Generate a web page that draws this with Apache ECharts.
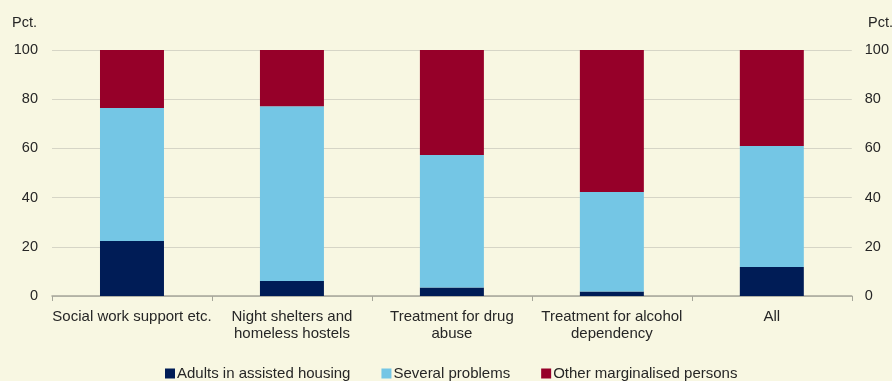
<!DOCTYPE html>
<html>
<head>
<meta charset="utf-8">
<script src="https://cdn.jsdelivr.net/npm/echarts@6/dist/echarts.min.js"></script>
<style>
  html, body { margin: 0; padding: 0; background: #F8F7E2; }
  #chart { width: 892px; height: 381px; }
</style>
</head>
<body>
<div id="chart"></div>
<script>
// Shares of each group per service type, in percent
const categories = [
  'Social work support etc.',
  'Night shelters and\nhomeless hostels',
  'Treatment for drug\nabuse',
  'Treatment for alcohol\ndependency',
  'All'
];
const adultsAssistedHousing = [22.4, 6.1, 3.5, 1.8, 11.8];
const severalProblems       = [54.0, 71.0, 53.8, 40.5, 49.2];
const otherMarginalised     = [23.6, 22.9, 42.7, 57.7, 39.0];
const yTicks = [0, 20, 40, 60, 80, 100];

const textColor = '#262626';
const fontFamily = 'Liberation Sans, Arial, sans-serif';

const chart = echarts.init(document.getElementById('chart'), null, { renderer: 'canvas' });

const valueAxis = (pos) => ({
  type: 'value',
  position: pos,
  min: yTicks[0],
  max: yTicks[yTicks.length - 1],
  interval: yTicks[1] - yTicks[0],
  axisLine: { show: false },
  axisTick: { show: false },
  axisLabel: {
    color: textColor, fontFamily, fontSize: 14.5,
    margin: pos === 'left' ? 14 : 13,
    align: pos === 'left' ? 'right' : 'left'
  },
  splitLine: { show: pos === 'left', lineStyle: { color: '#D6D5C6', width: 1 } }
});

chart.setOption({
  backgroundColor: '#F8F7E2',
  animation: false,
  grid: { left: 52, right: 37, top: 50, bottom: 85, containLabel: false },
  graphic: [
    { type: 'text', left: 12, top: 15, style: { text: 'Pct.', fill: textColor, font: '14.5px ' + fontFamily } },
    { type: 'text', left: 868, top: 15, style: { text: 'Pct.', fill: textColor, font: '14.5px ' + fontFamily } }
  ],
  legend: {
    bottom: -5,
    left: 160,
    itemWidth: 10,
    itemHeight: 10,
    itemGap: 31,
    icon: 'rect',
    textStyle: { color: textColor, fontFamily, fontSize: 15, padding: [0, 0, 0, -3] },
    data: ['Adults in assisted housing', 'Several problems', 'Other marginalised persons']
  },
  xAxis: {
    type: 'category',
    data: categories,
    axisLine: { lineStyle: { color: '#A6A69A', width: 1.5 } },
    axisTick: { show: true, length: 5, lineStyle: { color: '#A6A69A' } },
    axisLabel: { color: textColor, fontFamily, fontSize: 15, lineHeight: 17, margin: 12, interval: 0 }
  },
  yAxis: [valueAxis('left'), valueAxis('right')],
  series: [
    {
      name: 'Adults in assisted housing', type: 'bar', stack: 'total', barWidth: '40%',
      itemStyle: { color: '#001C56' }, data: adultsAssistedHousing
    },
    {
      name: 'Several problems', type: 'bar', stack: 'total', barWidth: '40%',
      itemStyle: { color: '#74C6E5' }, data: severalProblems
    },
    {
      name: 'Other marginalised persons', type: 'bar', stack: 'total', barWidth: '40%',
      itemStyle: { color: '#960029' }, data: otherMarginalised
    }
  ]
});
</script>
</body>
</html>
